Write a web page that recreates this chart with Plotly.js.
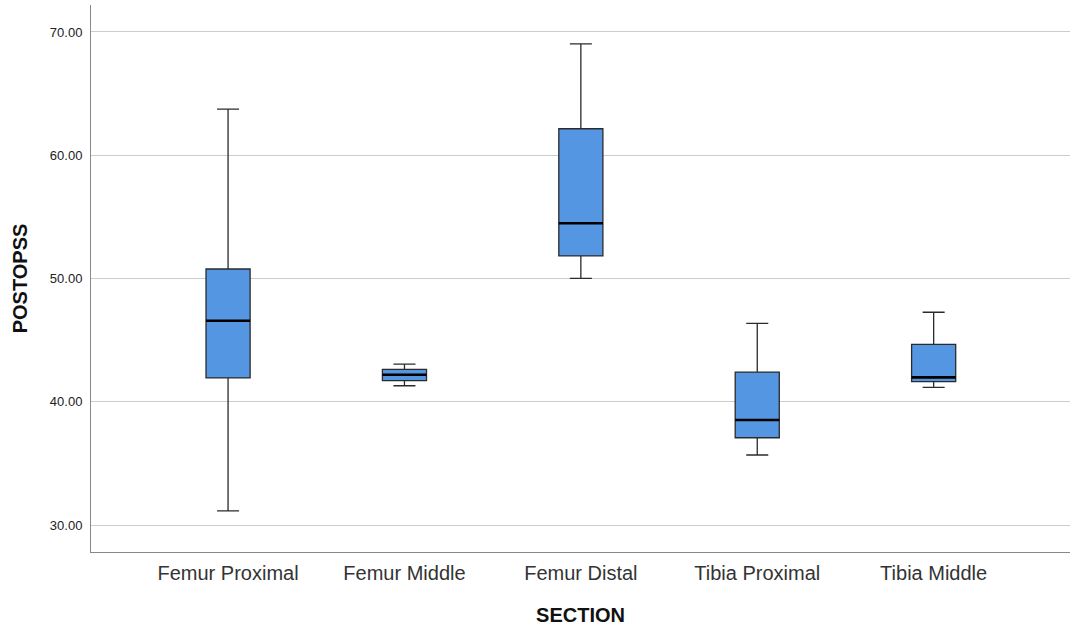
<!DOCTYPE html>
<html>
<head>
<meta charset="utf-8">
<script src="https://cdn.plot.ly/plotly-3.0.1.min.js"></script>
<style>html,body{margin:0;padding:0;background:#fff;}#chart{width:1075px;height:632px;}</style>
</head>
<body>
<div id="chart"></div>
<script>
const categories = ["Femur Proximal", "Femur Middle", "Femur Distal", "Tibia Proximal", "Tibia Middle"];
const lowerWhisker = [31.14, 41.30, 50.01, 35.68, 41.17];
const q1 = [41.93, 41.71, 51.83, 37.08, 41.63];
const medians = [46.57, 42.19, 54.48, 38.52, 41.98];
const q3 = [50.77, 42.63, 62.15, 42.41, 44.66];
const upperWhisker = [63.75, 43.06, 69.03, 46.36, 47.26];
const yTicks = [30, 40, 50, 60, 70];

const boxTrace = {
  type: "box",
  x: categories,
  q1: q1,
  median: medians,
  q3: q3,
  lowerfence: lowerWhisker,
  upperfence: upperWhisker,
  width: 0.25,
  whiskerwidth: 0.5,
  fillcolor: "#5596E3",
  line: {color: "#2b2b2b", width: 1.3},
  boxpoints: false,
  hoverinfo: "y",
  showlegend: false
};
// thick median overlay drawn as a degenerate box at the median
const medianTrace = {
  type: "box",
  x: categories,
  q1: medians,
  median: medians,
  q3: medians,
  lowerfence: medians,
  upperfence: medians,
  width: 0.25,
  whiskerwidth: 0,
  fillcolor: "rgba(0,0,0,0)",
  line: {color: "#000000", width: 2.6},
  boxpoints: false,
  hoverinfo: "skip",
  showlegend: false
};

const layout = {
  width: 1075,
  height: 632,
  margin: {l: 91, r: 5, t: 5, b: 80},
  paper_bgcolor: "#ffffff",
  plot_bgcolor: "#ffffff",
  boxmode: "overlay",
  font: {family: "Liberation Sans, Arial, sans-serif", color: "#222"},
  xaxis: {
    type: "category",
    range: [-0.777, 4.773],
    showgrid: false,
    zeroline: false,
    showline: true,
    linecolor: "#888888",
    linewidth: 1,
    ticks: "outside",
    ticklen: 3,
    tickcolor: "rgba(0,0,0,0)",
    tickfont: {size: 20, color: "#333333"},
    title: {text: "SECTION", font: {size: 20, color: "#111", weight: "bold"}, standoff: 24}
  },
  yaxis: {
    range: [27.81, 72.19],
    tickvals: yTicks,
    tickformat: ".2f",
    showgrid: true,
    gridcolor: "#cccccc",
    gridwidth: 1,
    zeroline: false,
    showline: true,
    linecolor: "#888888",
    linewidth: 1,
    ticks: "outside",
    ticklen: 5,
    tickcolor: "rgba(0,0,0,0)",
    tickfont: {size: 13, color: "#222222"},
    title: {text: "POSTOPSS", font: {size: 20, color: "#111", weight: "bold"}, standoff: 16}
  }
};

Plotly.newPlot("chart", [boxTrace, medianTrace], layout, {displayModeBar: false, staticPlot: true});
</script>
</body>
</html>
